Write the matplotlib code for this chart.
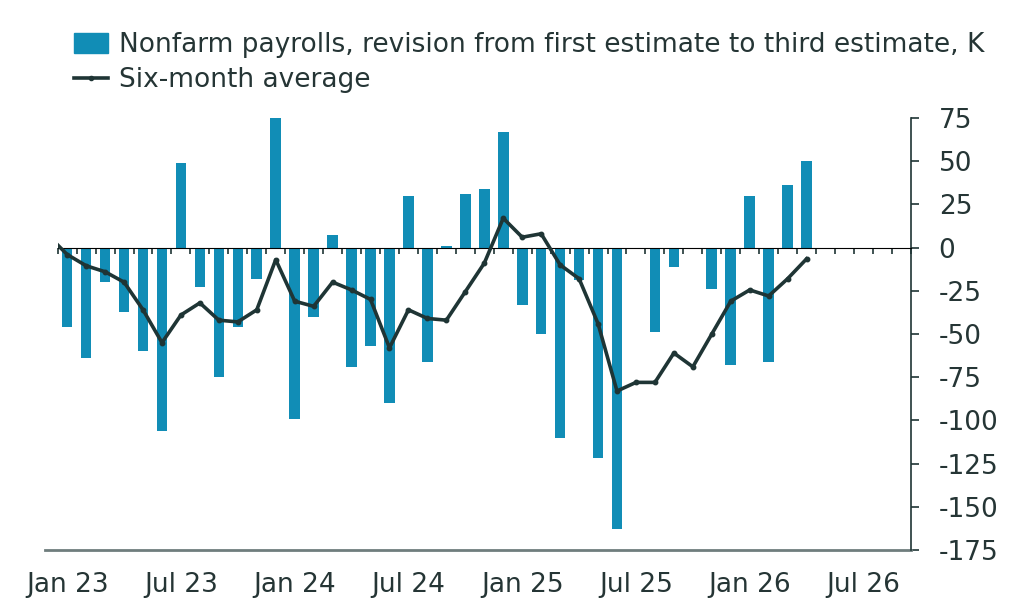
import numpy as np
import matplotlib
matplotlib.use("Agg")
import matplotlib.pyplot as plt
from matplotlib.lines import Line2D
from matplotlib.patches import Patch

plt.rcParams["font.family"] = ["DejaVu Sans"]
plt.rcParams["axes.unicode_minus"] = False

# monthly revisions, Jan 23 .. Apr 26 (Oct 25 not published)
bar_months = ["Jan 23", "Feb 23", "Mar 23", "Apr 23", "May 23", "Jun 23",
              "Jul 23", "Aug 23", "Sep 23", "Oct 23", "Nov 23", "Dec 23",
              "Jan 24", "Feb 24", "Mar 24", "Apr 24", "May 24", "Jun 24",
              "Jul 24", "Aug 24", "Sep 24", "Oct 24", "Nov 24", "Dec 24",
              "Jan 25", "Feb 25", "Mar 25", "Apr 25", "May 25", "Jun 25",
              "Jul 25", "Aug 25", "Sep 25", "Oct 25", "Nov 25", "Dec 25",
              "Jan 26", "Feb 26", "Mar 26", "Apr 26"]
revisions = [-46, -64, -20, -37, -60, -106, 49, -23, -75, -46, -18, 75,
             -99, -40, 7, -69, -57, -90, 30, -66, 1, 31, 34, 67,
             -33, -50, -110, -19, -122, -163, -1, -49, -11, np.nan, -24, -68,
             30, -66, 36, 50]

# six-month average, Dec 22 .. Apr 26
avg_months = ["Dec 22"] + bar_months
six_month_avg = [7, -4, -10.5, -14, -20, -36, -55, -39, -32, -42, -43, -36, -7,
                 -31, -34, -20, -24.5, -30, -58, -36, -41, -42, -25.5, -9, 17,
                 6, 8, -10, -18, -44, -83, -78, -78, -61, -69, -50, -31,
                 -24.5, -28, -18, -6.5]

tick_labels = ["Jan 23", "Jul 23", "Jan 24", "Jul 24", "Jan 25", "Jul 25",
               "Jan 26", "Jul 26"]

BAR = "#118db6"
LINE = "#1f3535"
TXT = "#253535"

fig = plt.figure(figsize=(10.23, 6.11), dpi=100)
ax = fig.add_axes([0.0564, 0.0998, 0.834, 0.7071])

x_bar = np.arange(len(bar_months)) + 0.5
x_avg = np.arange(len(avg_months)) - 0.5

ax.bar(x_bar, revisions, width=0.56, color=BAR, zorder=2)
ax.plot(x_avg, six_month_avg, color=LINE, lw=2.6, marker="o", ms=3.2, zorder=5)

ax.set_xlim(0, 45)
ax.set_ylim(-175, 75)

# zero line with monthly ticks pointing down
zero = ax.secondary_xaxis(175 / 250)
zero.set_xticks(np.arange(0, 46))
zero.set_xticklabels([])
zero.tick_params(direction="in", length=4, width=1.2, color=LINE)
zero.spines["bottom"].set_color(LINE)
zero.spines["bottom"].set_linewidth(1.4)
zero.set_zorder(4)

ax.set_xticks(np.arange(0, 46, 6) + 0.5)
ax.set_xticklabels(tick_labels)
ax.tick_params(axis="x", length=0, pad=16, labelsize=19, labelcolor=TXT)

ax.yaxis.tick_right()
ax.set_yticks(np.arange(-175, 76, 25))
ax.tick_params(axis="y", direction="out", length=6, width=1.2, color=LINE,
               pad=14, labelsize=19, labelcolor=TXT)
for lab in ax.get_yticklabels():
    lab.set_horizontalalignment("left")

for s in ["top", "left", "bottom"]:
    ax.spines[s].set_visible(False)
ax.spines["right"].set_color(LINE)
ax.spines["right"].set_linewidth(1.2)

ax.add_line(Line2D([-0.015, 1], [0, 0], transform=ax.transAxes, color="#6f7d7d",
                   lw=2, clip_on=False))

handles = [Patch(color=BAR),
           Line2D([], [], color=LINE, lw=2.6, marker="o", ms=3)]
labels = ["Nonfarm payrolls, revision from first estimate to third estimate, K",
          "Six-month average"]
fig.legend(handles, labels, loc="upper left", bbox_to_anchor=(0.062, 0.965),
           frameon=False, fontsize=19, labelcolor=TXT, handlelength=1.3,
           handleheight=0.8, handletextpad=0.4, labelspacing=0.35,
           borderaxespad=0)

fig.savefig("out.png", dpi=100)
